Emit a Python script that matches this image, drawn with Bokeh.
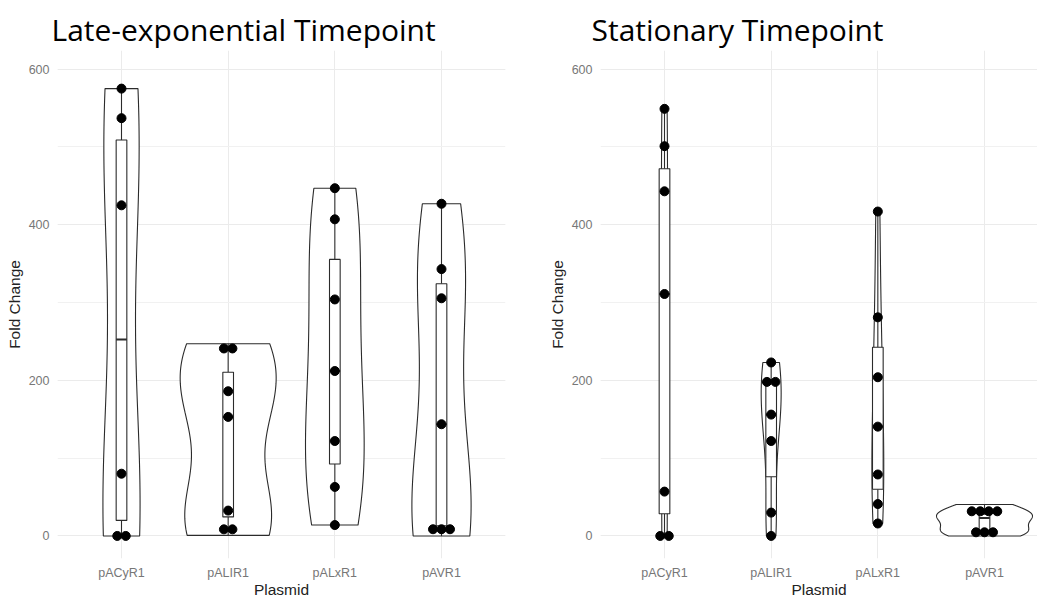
import numpy as np
from bokeh.plotting import figure
from bokeh.layouts import row
from bokeh.models import FixedTicker, SingleIntervalTicker, Range1d
from bokeh.embed import file_html
from bokeh.resources import INLINE

# ---------------- data ----------------
plasmids = ["pACyR1", "pALIR1", "pALxR1", "pAVR1"]
panel_titles = ["Late-exponential Timepoint", "Stationary Timepoint"]
x_title = "Plasmid"
y_title = "Fold Change"
y_ticks = [0, 200, 400, 600]

# Late-exponential timepoint, fold change per replicate
late_pACyR1 = [0, 0, 80, 425, 537, 575]
late_pALIR1 = [0.7, 16.3, 32.6, 153, 186, 235, 247]
late_pALxR1 = [14, 63, 122, 212, 304, 407, 447]
late_pAVR1 = [0, 9, 17.2, 143.6, 305.5, 343, 427]

# Stationary timepoint, fold change per replicate
stat_pACyR1 = [0, 0, 57, 311, 443, 501, 549]
stat_pALIR1 = [0, 30, 122, 156, 198, 198, 223]
stat_pALxR1 = [16, 41, 79, 140.5, 204, 281, 417]
stat_pAVR1 = [0, 5, 9.4, 22.9, 25, 31, 40.5]

late_groups = [late_pACyR1, late_pALIR1, late_pALxR1, late_pAVR1]
stat_groups = [stat_pACyR1, stat_pALIR1, stat_pALxR1, stat_pAVR1]


# ---------------- helpers (ggplot-like stats) ----------------
def bw_nrd0(x):
    x = np.asarray(x, float)
    hi = np.std(x, ddof=1)
    q75, q25 = np.percentile(x, [75, 25])
    lo = min(hi, (q75 - q25) / 1.34)
    if not lo:
        lo = hi or abs(x[0]) or 1.0
    return 0.9 * lo * len(x) ** -0.2


def density(x, n=512):
    x = np.asarray(x, float)
    bw = bw_nrd0(x)
    grid = np.linspace(x.min(), x.max(), n)
    d = np.exp(-0.5 * ((grid[:, None] - x[None, :]) / bw) ** 2).sum(1)
    d /= len(x) * bw * np.sqrt(2 * np.pi)
    return grid, d


def dot_bins(x, binwidth):
    bins = []
    end = -np.inf
    for v in sorted(x):
        if v >= end:
            bins.append([v])
            end = v + binwidth
        else:
            bins[-1].append(v)
    return [((min(b) + max(b)) / 2.0, len(b)) for b in bins]


def box_stats(x):
    x = np.asarray(x, float)
    q1, med, q3 = np.percentile(x, [25, 50, 75])
    iqr = q3 - q1
    lo = x[x >= q1 - 1.5 * iqr].min()
    hi = x[x <= q3 + 1.5 * iqr].max()
    return q1, med, q3, lo, hi


LINE = "#2b2b2b"
AXIS_FONT = "Liberation Sans"
FIG_H = 600
TOP, BOTTOM = 50, 42
Y0, Y1 = -29, 624


def make_panel(title, groups, width, x_end, mb_left, mb_right, title_offset):
    p = figure(width=width, height=FIG_H,
               x_range=Range1d(0.4, x_end), y_range=Range1d(Y0, Y1),
               output_backend="svg", toolbar_location=None,
               min_border_left=mb_left, min_border_right=mb_right,
               min_border_top=TOP, min_border_bottom=BOTTOM, title=title)
    frame_w = width - mb_left - mb_right
    px_per_unit = frame_w / (x_end - 0.4)

    # title
    p.title.text_font = "Open Sans"
    p.title.text_font_size = "30px"
    p.title.text_font_style = "normal"
    p.title.text_color = "#000000"
    p.title.align = "left"
    p.title.offset = title_offset
    p.title.standoff = 2

    # axes
    p.xaxis.ticker = FixedTicker(ticks=[1, 2, 3, 4])
    p.xaxis.major_label_overrides = {i + 1: name for i, name in enumerate(plasmids)}
    p.yaxis.ticker = SingleIntervalTicker(interval=200, num_minor_ticks=2)
    for ax in (p.xaxis[0], p.yaxis[0]):
        ax.axis_line_color = None
        ax.major_tick_line_color = None
        ax.minor_tick_line_color = None
        ax.major_tick_out = 0
        ax.major_tick_in = 0
        ax.minor_tick_out = 0
        ax.minor_tick_in = 0
        ax.major_label_text_font = AXIS_FONT
        ax.major_label_text_font_size = "12.5px"
        ax.major_label_text_color = "#777777"
        ax.axis_label_text_font = AXIS_FONT
        ax.axis_label_text_font_size = "15.5px"
        ax.axis_label_text_font_style = "normal"
        ax.axis_label_text_color = "#222222"
    p.xaxis.axis_label = x_title
    p.yaxis.axis_label = y_title
    p.xaxis.major_label_standoff = 7
    p.xaxis.axis_label_standoff = -2
    p.yaxis.major_label_standoff = 8
    p.yaxis.axis_label_standoff = 3

    p.xgrid.grid_line_color = "#ebebeb"
    p.ygrid.grid_line_color = "#ebebeb"
    p.ygrid.minor_grid_line_color = "#f1f1f1"
    p.outline_line_color = None
    p.background_fill_color = "white"

    # violins (scale = "area")
    dens = [density(g) for g in groups]
    dmax = max(d.max() for _, d in dens)
    for i, (grid, d) in enumerate(dens):
        c = i + 1
        hw = 0.45 * d / dmax
        xs = np.concatenate([c - hw, (c + hw)[::-1]])
        ys = np.concatenate([grid, grid[::-1]])
        p.patch(xs, ys, fill_color="white", line_color=LINE, line_width=1.1)

    # boxplots
    bw_box = 0.05
    for i, g in enumerate(groups):
        c = i + 1
        q1, med, q3, lo, hi = box_stats(g)
        p.segment(x0=[c, c], y0=[q3, q1], x1=[c, c], y1=[hi, lo], line_color=LINE, line_width=1.1)
        p.quad(left=[c - bw_box], right=[c + bw_box], bottom=[q1], top=[q3],
               fill_color="white", line_color=LINE, line_width=1.1)
        p.segment(x0=[c - bw_box], y0=[med], x1=[c + bw_box], y1=[med], line_color=LINE, line_width=2)

    # dot plot (binned along y, centred stacks)
    all_vals = np.concatenate([np.asarray(g, float) for g in groups])
    binwidth = (all_vals.max() - all_vals.min()) / 30.0
    spacing = 8.5 / px_per_unit
    xs, ys = [], []
    for i, g in enumerate(groups):
        c = i + 1
        for centre, n in dot_bins(g, binwidth):
            for k in range(n):
                xs.append(c + (k - (n - 1) / 2.0) * spacing)
                ys.append(centre)
    p.scatter(xs, ys, size=9, fill_color="black", line_color="black")
    return p


W1 = 540
W2 = 497
p1 = make_panel(panel_titles[0], late_groups, W1, 4.6, 57, W1 - 505, -6)
x_end2 = 0.4 + (W2 - 60) * 4.2 / 448
p2 = make_panel(panel_titles[1], stat_groups, W2, x_end2, 60, 0, -9)

layout = row(p1, p2)
open("out.html", "w").write(file_html(layout, INLINE))
